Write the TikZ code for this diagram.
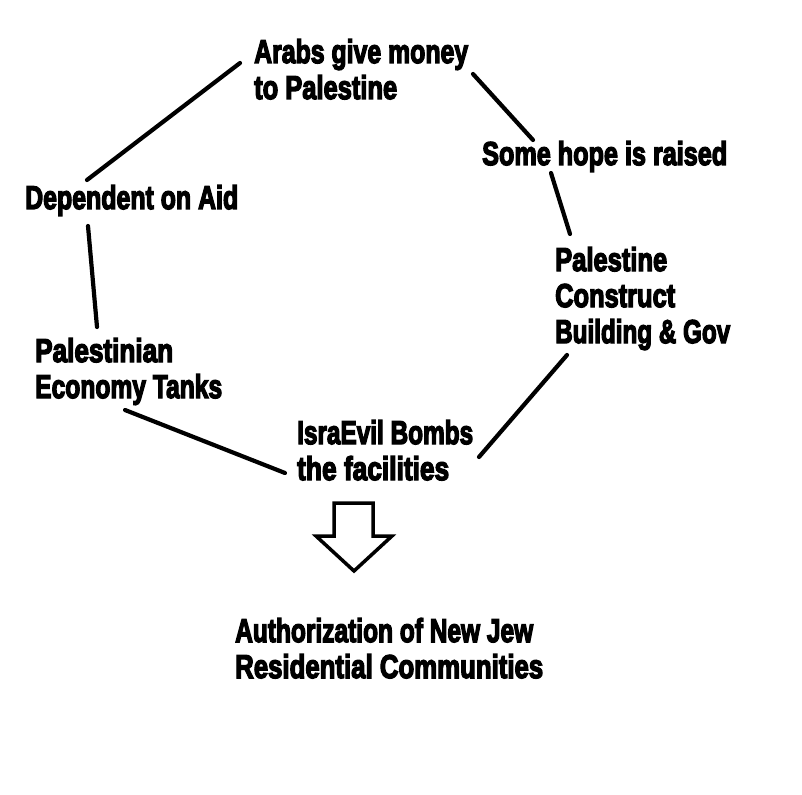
\documentclass[tikz,border=0pt]{standalone}
\usepackage{fontspec}
\setmainfont{Liberation Sans}[BoldFeatures={FakeBold=4.5}]
\usepackage{graphicx}
\newcommand{\fl}[2]{\hbox{\resizebox{#1pt}{\height}{#2}}}
\newcommand{\lines}[1]{\vtop{\baselineskip=36pt\lineskiplimit=-100pt #1}}
\tikzset{
  lbl/.style={anchor=base west, inner sep=0pt, font=\bfseries\fontsize{33}{36}\selectfont},
  link/.style={line width=4.2pt, line cap=round},
  bigarrow/.style={line width=3.5pt, line join=miter, fill=white}
}
\begin{document}
\begin{tikzpicture}[x=1pt,y=-1pt]
\fill[white] (0,0) rectangle (802,794);
\useasboundingbox (0,0) rectangle (802,794);
\node[lbl] (arabs) at (254,63) {\lines{\fl{214}{Arabs give money}\fl{143}{to Palestine}}};
\node[lbl] (hope) at (482,165) {\lines{\fl{245}{Some hope is raised}}};
\node[lbl] (dep) at (25,209) {\lines{\fl{213}{Dependent on Aid}}};
\node[lbl] (pal) at (555,271) {\lines{\fl{112}{Palestine}\fl{120}{Construct}\fl{175}{Building \& Gov}}};
\node[lbl] (econ) at (35,362) {\lines{\fl{138}{Palestinian}\fl{187}{Economy Tanks}}};
\node[lbl] (bomb) at (297,444) {\lines{\fl{176}{IsraEvil Bombs}\fl{152}{the facilities}}};
\node[lbl] (auth) at (235,642) {\lines{\fl{298}{Authorization of New Jew}\fl{308}{Residential Communities}}};
% connector ends
\coordinate (dA) at (87,180);  \coordinate (aD) at (240,63);
\coordinate (aH) at (473,74);  \coordinate (hA) at (533,140);
\coordinate (hP) at (551,173); \coordinate (pH) at (570,234);
\coordinate (dE) at (88,226);  \coordinate (eD) at (97,327);
\coordinate (eB) at (125,410); \coordinate (bE) at (285,473);
\coordinate (bP) at (479,457); \coordinate (pB) at (567,355);
\draw[link] (dA) -- (aD);
\draw[link] (aH) -- (hA);
\draw[link] (hP) -- (pH);
\draw[link] (dE) -- (eD);
\draw[link] (eB) -- (bE);
\draw[link] (bP) -- (pB);
% hollow arrow
\draw[bigarrow] (334,503) -- (373,503) -- (373,536) -- (392,536) -- (354,571) -- (316,536) -- (334,536) -- cycle;
\end{tikzpicture}
\end{document}
